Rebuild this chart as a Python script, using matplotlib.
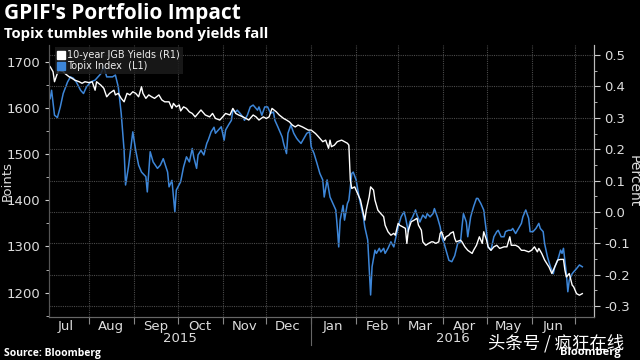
import numpy as np
import pandas as pd
import matplotlib
matplotlib.use("Agg")
import matplotlib.pyplot as plt
import matplotlib.dates as mdates
from matplotlib.lines import Line2D
from matplotlib.ticker import MultipleLocator, FormatStrFormatter
from matplotlib.transforms import blended_transform_factory

# day offsets are days since 2015-07-01
topix_day = [4, 5, 7, 9, 11, 13, 16, 18, 20, 22, 25, 27, 29, 32, 35, 39, 41, 43, 47, 49,
             51, 53, 55, 56, 58, 60, 61, 63, 65, 67, 70, 71, 73, 75, 78, 80, 82, 85, 86, 88,
             90, 91, 94, 96, 98, 100, 102, 103, 105, 106, 108, 110, 112, 113, 115, 117, 118, 120, 122, 124,
             125, 127, 129, 130, 132, 133, 135, 137, 138, 140, 142, 144, 147, 148, 150, 152, 154, 156, 158, 159,
             161, 164, 165, 167, 168, 170, 172, 174, 175, 177, 179, 181, 183, 184, 186, 188, 190, 192, 193, 195,
             197, 199, 201, 202, 203, 204, 206, 207, 209, 210, 212, 213, 215, 217, 218, 220, 221, 223, 224, 225,
             226, 228, 229, 231, 232, 234, 235, 237, 239, 241, 242, 244, 246, 248, 249, 251, 252, 254, 256, 257,
             259, 261, 263, 264, 266, 268, 269, 271, 273, 274, 276, 279, 281, 283, 285, 287, 288, 289, 291, 292,
             294, 296, 298, 299, 301, 303, 305, 306, 308, 310, 312, 313, 315, 317, 318, 320, 322, 323, 325, 327,
             329, 330, 332, 334, 335, 337, 339, 341, 342, 344, 345, 347, 349, 351, 352, 354, 356, 357, 358, 360,
             361, 362, 364, 365, 367, 369, 371]
topix = [1620, 1638, 1584, 1579, 1602, 1631, 1656, 1667, 1664, 1656, 1638, 1631, 1645, 1656, 1660, 1674, 1689, 1667, 1667, 1671,
         1645, 1588, 1508, 1433, 1472, 1523, 1548, 1508, 1476, 1461, 1451, 1418, 1505, 1483, 1469, 1476, 1490, 1461, 1429, 1443,
         1375, 1422, 1440, 1472, 1494, 1483, 1512, 1494, 1469, 1498, 1508, 1498, 1523, 1530, 1548, 1558, 1545, 1552, 1559, 1530,
         1552, 1563, 1573, 1595, 1591, 1595, 1588, 1580, 1573, 1584, 1602, 1606, 1595, 1602, 1584, 1602, 1602, 1588, 1591, 1573,
         1559, 1537, 1523, 1501, 1545, 1563, 1545, 1534, 1530, 1523, 1534, 1545, 1548, 1516, 1501, 1480, 1458, 1444, 1407, 1444,
         1407, 1393, 1379, 1342, 1299, 1357, 1389, 1357, 1393, 1400, 1458, 1461, 1444, 1407, 1393, 1364, 1342, 1314, 1256, 1195,
         1256, 1292, 1285, 1296, 1288, 1296, 1285, 1296, 1310, 1299, 1314, 1342, 1364, 1375, 1364, 1332, 1353, 1364, 1379, 1368,
         1353, 1368, 1361, 1371, 1364, 1371, 1382, 1364, 1342, 1321, 1303, 1270, 1267, 1280, 1306, 1310, 1342, 1371, 1353, 1321,
         1364, 1386, 1404, 1404, 1393, 1379, 1328, 1299, 1292, 1321, 1332, 1335, 1321, 1321, 1332, 1335, 1335, 1339, 1328, 1339,
         1350, 1364, 1379, 1361, 1332, 1332, 1339, 1350, 1339, 1332, 1306, 1277, 1256, 1241, 1256, 1270, 1292, 1285, 1296, 1241,
         1202, 1227, 1241, 1245, 1252, 1260, 1256]

jgb_day = [4, 6, 7, 9, 10, 13, 14, 17, 19, 21, 24, 26, 28, 31, 33, 35, 36, 39, 41, 43,
           45, 48, 49, 51, 53, 55, 57, 59, 61, 63, 65, 67, 68, 70, 72, 74, 76, 79, 81, 83,
           86, 88, 89, 91, 93, 94, 96, 98, 100, 102, 104, 106, 108, 111, 114, 116, 118, 121, 123, 125,
           128, 130, 132, 134, 137, 139, 141, 144, 146, 148, 151, 153, 155, 157, 160, 162, 165, 167, 169, 171,
           173, 175, 178, 180, 182, 184, 187, 189, 192, 194, 196, 197, 198, 200, 202, 205, 207, 209, 210, 211,
           212, 214, 216, 218, 219, 221, 222, 224, 225, 227, 228, 230, 232, 234, 235, 237, 239, 241, 242, 244,
           245, 247, 249, 250, 251, 253, 255, 257, 258, 260, 261, 263, 265, 267, 268, 270, 272, 273, 274, 276,
           277, 279, 280, 282, 283, 284, 287, 288, 290, 292, 295, 296, 298, 300, 302, 303, 305, 306, 308, 310,
           312, 314, 317, 319, 321, 322, 325, 327, 329, 331, 334, 336, 338, 340, 341, 343, 345, 348, 350, 352,
           354, 356, 358, 359, 360, 362, 364, 365, 367, 369, 371]
jgb = [0.463, 0.447, 0.415, 0.442, 0.452, 0.447, 0.442, 0.431, 0.426, 0.420, 0.415, 0.410, 0.415, 0.412, 0.415, 0.388, 0.415, 0.404, 0.394, 0.367,
       0.378, 0.388, 0.373, 0.378, 0.362, 0.351, 0.378, 0.373, 0.383, 0.378, 0.367, 0.399, 0.378, 0.362, 0.373, 0.367, 0.362, 0.373, 0.357, 0.351,
       0.351, 0.330, 0.346, 0.335, 0.341, 0.322, 0.335, 0.330, 0.319, 0.314, 0.303, 0.314, 0.325, 0.309, 0.303, 0.314, 0.298, 0.293, 0.303, 0.314,
       0.309, 0.330, 0.314, 0.309, 0.303, 0.298, 0.293, 0.309, 0.303, 0.293, 0.303, 0.298, 0.303, 0.330, 0.319, 0.309, 0.298, 0.293, 0.287, 0.277,
       0.271, 0.277, 0.271, 0.266, 0.261, 0.261, 0.250, 0.240, 0.224, 0.229, 0.203, 0.229, 0.208, 0.213, 0.224, 0.229, 0.224, 0.219, 0.213, 0.102,
       0.075, 0.080, 0.059, 0.038, 0.017, -0.026, 0.006, 0.048, 0.080, 0.070, 0.038, 0.006, -0.005, -0.015, -0.042, -0.063, -0.074, -0.068, -0.074, -0.036,
       -0.042, -0.047, -0.052, -0.100, -0.058, -0.031, -0.026, -0.020, -0.042, -0.058, -0.095, -0.106, -0.100, -0.095, -0.095, -0.100, -0.095, -0.068, -0.063, -0.090,
       -0.079, -0.074, -0.068, -0.063, -0.084, -0.095, -0.090, -0.095, -0.111, -0.122, -0.132, -0.122, -0.106, -0.079, -0.100, -0.063, -0.090, -0.111, -0.122, -0.111,
       -0.106, -0.116, -0.111, -0.111, -0.079, -0.106, -0.106, -0.111, -0.122, -0.122, -0.127, -0.122, -0.111, -0.127, -0.116, -0.132, -0.153, -0.175, -0.196, -0.175,
       -0.153, -0.151, -0.151, -0.185, -0.207, -0.196, -0.233, -0.238, -0.260, -0.265, -0.260]

start = pd.Timestamp("2015-07-01")
topix_dates = start + pd.to_timedelta(topix_day, unit="D")
jgb_dates = start + pd.to_timedelta(jgb_day, unit="D")

narrow = ["Liberation Sans Narrow", "DejaVu Sans"]
blue = "#3d86d8"
grid_col = "#4a4a4a"

fig = plt.figure(figsize=(6.4, 3.6), dpi=100, facecolor="black")
ax = fig.add_axes([0.077, 0.119, 0.851, 0.756], facecolor="black")
ax2 = ax.twinx()

ax.plot(topix_dates, topix, color=blue, lw=1.1)
ax2.plot(jgb_dates, jgb, color="white", lw=1.0)

ax.set_xlim(start + pd.Timedelta(days=3.4), start + pd.Timedelta(days=379))
ax.set_ylim(1147, 1736)
ax2.set_ylim(-0.335, 0.532)

# x axis: tick marks at month starts, labels mid-month
ax.xaxis.set_major_locator(mdates.MonthLocator())
ax.xaxis.set_major_formatter(plt.NullFormatter())
ax.xaxis.set_minor_locator(mdates.MonthLocator(bymonthday=16))
ax.xaxis.set_minor_formatter(mdates.DateFormatter("%b"))
ax.tick_params(axis="x", which="major", length=5, color="#888888", direction="out")
ax.tick_params(axis="x", which="minor", length=0, pad=2, labelcolor="#dddddd", labelsize=9.5)
for lab in ax.get_xticklabels(minor=True):
    lab.set_family(narrow)

ax.grid(axis="x", which="major", color=grid_col, linestyle=(0, (1, 1)), lw=0.8)
ax2.grid(axis="y", which="major", color=grid_col, linestyle=(0, (1, 1)), lw=0.8)
ax.set_axisbelow(True)

ax.yaxis.set_major_locator(MultipleLocator(100))
ax.yaxis.set_minor_locator(MultipleLocator(50))
ax.tick_params(axis="y", which="both", color="#cccccc", direction="out", labelcolor="#dddddd", labelsize=9.5)
ax.tick_params(axis="y", which="major", length=3)
ax.tick_params(axis="y", which="minor", length=2)

ax2.yaxis.set_major_locator(MultipleLocator(0.1))
ax2.yaxis.set_minor_locator(MultipleLocator(0.05))
ax2.yaxis.set_major_formatter(FormatStrFormatter("%.1f"))
ax2.tick_params(axis="y", which="both", color="#cccccc", direction="out", labelcolor="#dddddd", labelsize=9.5)
ax2.tick_params(axis="y", which="major", length=4)
ax2.tick_params(axis="y", which="minor", length=2)
for lab in ax.get_yticklabels() + ax2.get_yticklabels():
    lab.set_family(narrow)

for a in (ax, ax2):
    a.spines["top"].set_visible(False)
    a.spines["left"].set_color("#555555")
    a.spines["bottom"].set_color("#666666")
    a.spines["right"].set_color("#bbbbbb")
    a.spines["left"].set_linewidth(0.8)
    a.spines["bottom"].set_linewidth(0.8)

ax.set_ylabel("Points", color="#dddddd", fontsize=9.5, family=narrow, va="center")
ax.yaxis.set_label_coords(-0.078, 0.5)
ax2.set_ylabel("Percent", color="#dddddd", fontsize=10, family=narrow, rotation=270, va="center")
ax2.yaxis.set_label_coords(1.073, 0.5)

# year labels under the month labels and a separator at the year boundary
trans = blended_transform_factory(ax.transData, ax.transAxes)
x0, x1 = ax.get_xlim()
ny = mdates.date2num(pd.Timestamp("2016-01-01"))
ax.plot([ny, ny], [0, -0.103], transform=trans, color="#666666", lw=0.8, clip_on=False)
ax.text((x0 + ny) / 2, -0.077, "2015", transform=trans, ha="center", va="center",
        color="#dddddd", fontsize=9.5, family=narrow)
ax.text((ny + x1) / 2, -0.077, "2016", transform=trans, ha="center", va="center",
        color="#dddddd", fontsize=9.5, family=narrow)

handles = [Line2D([], [], marker="s", ls="none", color="white", markersize=5.5),
           Line2D([], [], marker="s", ls="none", color=blue, markersize=5.5)]
leg = ax2.legend(handles, ["10-year JGB Yields (R1)", "Topix Index  (L1)"], loc="upper left",
                 bbox_to_anchor=(0.002, 1.01), frameon=True, fancybox=False, framealpha=0.85,
                 facecolor="#1c1c1c", edgecolor="none", handlelength=0.6, handletextpad=0.3,
                 borderpad=0.3, labelspacing=0.1, prop={"family": narrow, "size": 7})
for t in leg.get_texts():
    t.set_color("#eeeeee")

fig.text(0.006, 0.962, "GPIF's Portfolio Impact", color="white", fontsize=15,
         fontweight="bold", family="Open Sans", va="center")
fig.text(0.006, 0.905, "Topix tumbles while bond yields fall", color="white", fontsize=10.7,
         fontweight="bold", family="Open Sans", va="center")
fig.text(0.006, 0.019, "Source: Bloomberg", color="white", fontsize=7.5, fontweight="bold",
         family="Open Sans", va="center")
fig.text(0.762, 0.047, "头条号 / 疯狂在线", color="white", fontsize=12.5,
         family=["Noto Sans CJK SC", "DejaVu Sans"], va="center")
fig.text(0.875, 0.022, "Bloomberg", color="white", fontsize=8, fontweight="bold",
         family="Open Sans", va="center")

fig.savefig("out.png", dpi=100, facecolor="black")
